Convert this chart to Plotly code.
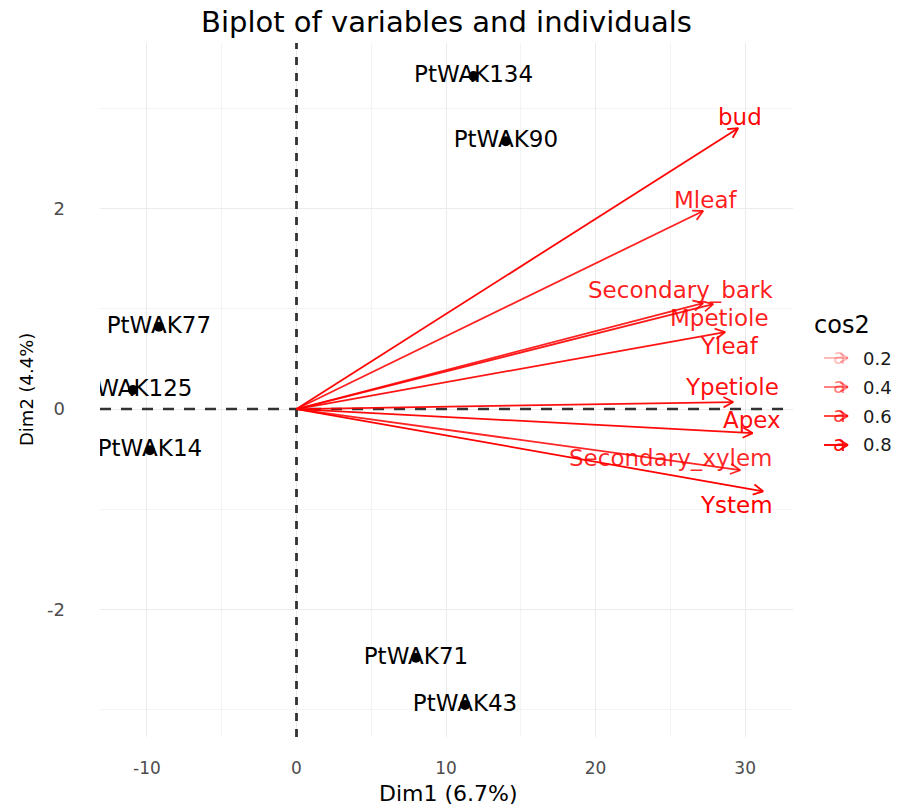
import math
import plotly.graph_objects as go

# ---- individuals (PCA scores) ----
ind_names = ["PtWAK134", "PtWAK90", "PtWAK77", "PtWAK125", "PtWAK14", "PtWAK71", "PtWAK43"]
ind_dim1 = [11.84, 14.0, -9.2, -10.94, -9.8, 7.99, 11.27]
ind_dim2 = [3.32, 2.67, 0.82, 0.19, -0.41, -2.48, -2.95]

# ---- variables (scaled loadings) ----
var_names = ["bud", "Mleaf", "Secondary_bark", "Mpetiole", "Yleaf",
             "Ypetiole", "Apex", "Secondary_xylem", "Ystem"]
var_dim1 = [29.53, 27.19, 27.86, 27.19, 28.66, 29.2, 30.5, 29.67, 31.2]
var_dim2 = [2.80, 1.975, 1.047, 1.057, 0.768, 0.07, -0.24, -0.61, -0.82]
var_cos2 = [0.84, 0.74, 0.76, 0.74, 0.78, 0.80, 0.82, 0.72, 0.85]

# label placement relative to arrow tips (pixels: right, down)
var_label_dx = [2, 2, -33, 16, 4, -1, -1, -70, -27]
var_label_dy = [-11, -11, -14, 15, 14, -15, -13, -12, 14]

cos2_breaks = [0.2, 0.4, 0.6, 0.8]
x_ticks = [-10, 0, 10, 20, 30]
y_ticks = [-2, 0, 2]

# ---- geometry ----
W, H = 905, 807
ML, MR, MT, MB = 100, 112, 43, 70
PW, PH = W - ML - MR, H - MT - MB
X_RANGE = [-13.14, 33.2]
Y_RANGE = [-3.27, 3.65]
UX = PW / (X_RANGE[1] - X_RANGE[0])  # px per unit on Dim1
UY = PH / (Y_RANGE[1] - Y_RANGE[0])  # px per unit on Dim2

FONT = "DejaVu Sans"
ALPHA_LO, ALPHA_HI = 0.05, 0.85


def cos2_alpha(c):
    t = (c - ALPHA_LO) / (ALPHA_HI - ALPHA_LO)
    t = min(max(t, 0.0), 1.0)
    return 0.1 + 0.9 * t


def red(a):
    return f"rgba(255,0,0,{a:.3f})"


def open_head(tip_px, tip_py, base_px, base_py, length=11, angle=28):
    """Return the two wing end points (pixel space) of an open arrow head."""
    ang = math.atan2(tip_py - base_py, tip_px - base_px)
    th = math.radians(angle)
    wings = []
    for s in (1, -1):
        a = ang + math.pi + s * th
        wings.append((tip_px + length * math.cos(a), tip_py + length * math.sin(a)))
    return wings


fig = go.Figure()

# dashed reference lines through the origin
fig.add_trace(go.Scatter(x=[X_RANGE[0], X_RANGE[1]], y=[0, 0], mode="lines",
                         line=dict(color="#333333", width=2.4, dash="11px,10px"),
                         hoverinfo="skip", showlegend=False))
fig.add_trace(go.Scatter(x=[0, 0], y=[Y_RANGE[0], Y_RANGE[1]], mode="lines",
                         line=dict(color="#333333", width=2.8, dash="8px,8px"),
                         hoverinfo="skip", showlegend=False))

# individuals: labels and points
fig.add_trace(go.Scatter(x=ind_dim1, y=ind_dim2, mode="text", text=ind_names,
                         textposition="middle center",
                         textfont=dict(family=FONT, size=23, color="black"),
                         cliponaxis=True, showlegend=False, hoverinfo="skip"))
fig.add_trace(go.Scatter(x=ind_dim1, y=ind_dim2, mode="markers",
                         marker=dict(color="black", size=10),
                         cliponaxis=True, showlegend=False,
                         hovertext=ind_names, hoverinfo="text"))

# variables: arrows from the origin
for name, vx, vy, c, dx, dy in zip(var_names, var_dim1, var_dim2, var_cos2,
                                     var_label_dx, var_label_dy):
    col = red(cos2_alpha(c))
    tpx, tpy = vx * UX, vy * UY
    (w1x, w1y), (w2x, w2y) = open_head(tpx, tpy, 0.0, 0.0)
    xs = [0, vx, None, w1x / UX, vx, w2x / UX]
    ys = [0, vy, None, w1y / UY, vy, w2y / UY]
    fig.add_trace(go.Scatter(x=xs, y=ys, mode="lines",
                             line=dict(color=col, width=1.8),
                             hoverinfo="skip", showlegend=False))
    fig.add_annotation(x=vx, y=vy, xref="x", yref="y", text=name,
                       showarrow=False, xshift=dx, yshift=-dy,
                       xanchor="center", yanchor="middle",
                       font=dict(family=FONT, size=23, color=col))

# ---- cos2 legend ----
def px_to_paper(px, py):
    return (px - ML) / PW, (H - MB - py) / PH


lx0, ly0 = px_to_paper(812, 325)
fig.add_annotation(x=lx0, y=ly0, xref="paper", yref="paper", text="cos2",
                   showarrow=False, xanchor="left", yanchor="middle",
                   font=dict(family=FONT, size=24, color="black"))

for i, b in enumerate(cos2_breaks):
    py = 358 + 29 * i
    col = red(cos2_alpha(b))
    x0p, x1p = 824, 848
    ax0, ay = px_to_paper(x0p, py)
    ax1, _ = px_to_paper(x1p, py)
    fig.add_shape(type="line", xref="paper", yref="paper",
                  x0=ax0, y0=ay, x1=ax1, y1=ay,
                  line=dict(color=col, width=2))
    for (wx, wy) in open_head(x1p, -py, x0p, -py, length=9, angle=30):
        wxp, wyp = px_to_paper(wx, -wy)
        fig.add_shape(type="line", xref="paper", yref="paper",
                      x0=ax1, y0=ay, x1=wxp, y1=wyp,
                      line=dict(color=col, width=2))
    kx, ky = px_to_paper(839, py - 1)
    fig.add_annotation(x=kx, y=ky, xref="paper", yref="paper", text="a",
                       showarrow=False, xanchor="center", yanchor="middle",
                       font=dict(family=FONT, size=21, color=col))
    tx, ty = px_to_paper(861, py)
    fig.add_annotation(x=tx, y=ty, xref="paper", yref="paper", text=f"{b:.1f}",
                       showarrow=False, xanchor="left", yanchor="middle",
                       font=dict(family=FONT, size=18, color="#1a1a1a"))

# axis titles
axt_x, axt_y = px_to_paper(448, 793)
fig.add_annotation(x=axt_x, y=axt_y, xref="paper", yref="paper",
                   text="Dim1 (6.7%)", showarrow=False,
                   xanchor="center", yanchor="middle",
                   font=dict(family=FONT, size=22, color="black"))
ayt_x, ayt_y = px_to_paper(26, 390)
fig.add_annotation(x=ayt_x, y=ayt_y, xref="paper", yref="paper",
                   text="Dim2 (4.4%)", showarrow=False, textangle=-90,
                   xanchor="center", yanchor="middle",
                   font=dict(family=FONT, size=18, color="black"))

fig.update_layout(
    width=W, height=H,
    margin=dict(l=ML, r=MR, t=MT, b=MB),
    paper_bgcolor="white", plot_bgcolor="white",
    title=dict(text="Biplot of variables and individuals",
               x=0.5, xref="paper", xanchor="center",
               y=1 - 22 / H, yref="container", yanchor="middle",
               font=dict(family=FONT, size=29, color="black")),
    xaxis=dict(range=X_RANGE, tickvals=x_ticks, ticktext=[str(v) for v in x_ticks],
               showgrid=True, gridcolor="#EBEBEB", gridwidth=1.2,
               minor=dict(dtick=5, tick0=0, showgrid=True, gridcolor="#F4F4F4", gridwidth=1),
               zeroline=False, showline=False, ticks="",
               ticklabelstandoff=19,
               tickfont=dict(family=FONT, size=17, color="#4D4D4D")),
    yaxis=dict(range=Y_RANGE, tickvals=y_ticks, ticktext=[str(v) for v in y_ticks],
               showgrid=True, gridcolor="#EBEBEB", gridwidth=1.2,
               minor=dict(dtick=1, tick0=0, showgrid=True, gridcolor="#F4F4F4", gridwidth=1),
               zeroline=False, showline=False, ticks="",
               ticklabelstandoff=34,
               tickfont=dict(family=FONT, size=18, color="#4D4D4D")),
    showlegend=False,
)

fig.write_html("out.html")
